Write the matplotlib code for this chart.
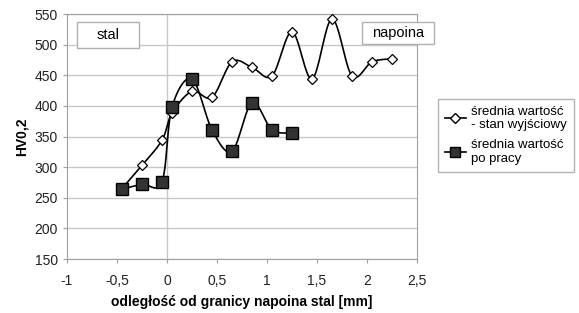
import numpy as np
import matplotlib
matplotlib.use('Agg')
import matplotlib.pyplot as plt
from matplotlib.patches import Rectangle

plt.rcParams['font.family'] = ['Liberation Sans', 'DejaVu Sans']

# data
x_start = [-0.45, -0.25, -0.05, 0.05, 0.25, 0.45, 0.65, 0.85, 1.05, 1.25, 1.45, 1.65, 1.85, 2.05, 2.25]
hv_start = [265, 303, 344, 388, 424, 414, 472, 463, 449, 521, 444, 542, 449, 472, 477]
x_work = [-0.45, -0.25, -0.05, 0.05, 0.25, 0.45, 0.65, 0.85, 1.05, 1.25]
hv_work = [264, 272, 276, 398, 444, 361, 326, 405, 361, 356]

label_start = "średnia wartość\n- stan wyjściowy"
label_work = "średnia wartość\npo pracy"


def smooth(xs, ys, n=20):
    # catmull-rom, roughly what excel does for "smoothed line"
    p = np.column_stack([xs, ys]).astype(float)
    p = np.vstack([p[0], p, p[-1]])
    out = []
    t = np.linspace(0, 1, n, endpoint=False)[:, None]
    for i in range(1, len(p) - 2):
        p0, p1, p2, p3 = p[i - 1], p[i], p[i + 1], p[i + 2]
        c1 = p1 + (p2 - p0) / 6
        c2 = p2 - (p3 - p1) / 6
        seg = ((1 - t) ** 3) * p1 + 3 * ((1 - t) ** 2) * t * c1 + 3 * (1 - t) * t ** 2 * c2 + t ** 3 * p2
        out.append(seg)
    out.append(p[-2][None, :])
    out = np.vstack(out)
    return out[:, 0], out[:, 1]


fig = plt.figure(figsize=(5.79, 3.13), dpi=100)
ax = fig.add_axes([0.1157, 0.1725, 0.6045, 0.7825])

ax.set_xlim(-1, 2.5)
ax.set_ylim(150, 550)
ax.set_yticks(np.arange(150, 551, 50))
ax.set_xticks(np.arange(-1, 2.51, 0.5))
ax.set_xticklabels(['-1', '-0,5', '0', '0,5', '1', '1,5', '2', '2,5'])
ax.grid(axis='y', color='#c8c8c8', lw=1)
ax.axvline(0, color='#c8c8c8', lw=1, zorder=1)
ax.set_axisbelow(True)
for s in ax.spines.values():
    s.set_color('#a0a0a0')
ax.tick_params(labelsize=10, length=3, color='#a0a0a0', colors='#222222')
ax.tick_params(axis='x', pad=8)

sx, sy = smooth(x_start, hv_start)
ax.plot(sx, sy, color='black', lw=1.2, zorder=3)
ax.plot(x_start, hv_start, ls='none', marker='D', ms=5, mfc='white', mec='black', mew=0.9, zorder=4)

wx, wy = smooth(x_work, hv_work)
ax.plot(wx, wy, color='black', lw=1.2, zorder=3)
ax.plot(x_work, hv_work, ls='none', marker='s', ms=8.5, mfc='#333333', mec='black', mew=1, zorder=5)

ax.set_xlabel('odległość od granicy napoina stal [mm]', fontsize=10, fontweight='bold', labelpad=5)
ax.set_ylabel('HV0,2', fontsize=10, fontweight='bold', labelpad=4)

# label boxes
ax.add_patch(Rectangle((0.029, 0.861), 0.177, 0.106, transform=ax.transAxes,
                       fc='white', ec='#b0b0b0', lw=1, zorder=6))
ax.text(0.117, 0.914, 'stal', transform=ax.transAxes, fontsize=10.5, ha='center', va='center', zorder=7)
fig.add_artist(Rectangle((0.625, 0.859), 0.125, 0.071, transform=fig.transFigure,
                         fc='white', ec='#b0b0b0', lw=1, zorder=6))
fig.text(0.6875, 0.894, 'napoina', fontsize=10.5, ha='center', va='center', zorder=7)

# legend
h1, = ax.plot([], [], color='black', lw=1.2, marker='D', ms=5, mfc='white', mec='black')
h2, = ax.plot([], [], color='black', lw=1.2, marker='s', ms=7, mfc='#333333', mec='black')
leg = fig.legend([h1, h2], [label_start, label_work], loc='upper left', bbox_to_anchor=(0.757, 0.684),
                 borderaxespad=0, fontsize=9.5, frameon=True, fancybox=False, edgecolor='#a0a0a0',
                 handlelength=1.6, handletextpad=0.4, borderpad=0.5, labelspacing=0.6)
leg.get_frame().set_linewidth(1)

fig.savefig('out.png', dpi=100)
